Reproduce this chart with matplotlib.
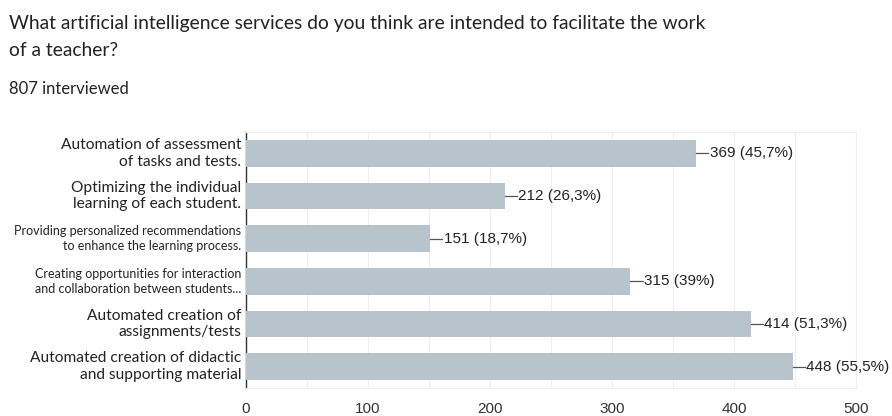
import matplotlib
matplotlib.use("Agg")
import matplotlib.pyplot as plt
import numpy as np

categories = [
    "Automation of assessment\nof tasks and tests.",
    "Optimizing the individual\nlearning of each student.",
    "Providing personalized recommendations\nto enhance the learning process.",
    "Creating opportunities for interaction\nand collaboration between students...",
    "Automated creation of\nassignments/tests",
    "Automated creation of didactic\nand supporting material",
]
label_sizes = [11.2, 11.2, 9, 9, 11.2, 11.2]
values = [369, 212, 151, 315, 414, 448]
percents = ["45,7%", "26,3%", "18,7%", "39%", "51,3%", "55,5%"]
xticks = [0, 100, 200, 300, 400, 500]
title_lines = ["What artificial intelligence services do you think are intended to facilitate the work",
               "of a teacher?"]
subtitle = "807 interviewed"

fig = plt.figure(figsize=(8.92, 4.16), dpi=100)
ax = fig.add_axes([246/892, 1 - 388/416, (856-246)/892, (388-132)/416])

y = np.arange(len(values))
ax.barh(y, values, height=0.62, color="#b7c4cb", zorder=3)
ax.set_ylim(len(values) - 0.5, -0.5)
ax.set_xlim(0, 500)
ax.set_xticks(xticks)
ax.set_xticklabels([str(t) for t in xticks], fontfamily="Liberation Sans", fontsize=11, color="#333333")
ax.set_xticks(np.arange(0, 501, 50), minor=True)
ax.grid(axis="x", which="both", color="#eeeeee", linewidth=0.8, zorder=0)
ax.tick_params(axis="x", length=0, pad=10)
ax.tick_params(axis="x", which="minor", length=0)
ax.set_yticks(y)
ax.set_yticklabels([])
ax.tick_params(axis="y", length=0)
for i, (c, s) in enumerate(zip(categories, label_sizes)):
    ax.text(-4, i, c, ha="right", va="center", fontsize=s, fontfamily="Lato",
            color="#222222", linespacing=1.25, transform=ax.transData)

for sp in ["top", "right", "bottom"]:
    ax.spines[sp].set_color("#eeeeee")
ax.spines["left"].set_color("#333333")
ax.spines["left"].set_linewidth(1.0)

for i, (v, p) in enumerate(zip(values, percents)):
    ax.plot([v, v + 10], [i, i], color="#555555", linewidth=0.9, zorder=4, clip_on=False)
    ax.text(v + 11, i, f"{v} ({p})", ha="left", va="center", fontsize=11,
            fontfamily="Liberation Sans", color="#222222", clip_on=False)

for k, line in enumerate(title_lines):
    fig.text(9/892, 1 - (24 + 26 * k)/416, line, ha="left", va="center", fontsize=13.9,
             fontfamily="Lato", color="#222222")
fig.text(9/892, 1 - 89/416, subtitle, ha="left", va="center", fontsize=12, fontfamily="Lato",
         color="#222222")

fig.savefig("out.png", dpi=100, facecolor="white")
